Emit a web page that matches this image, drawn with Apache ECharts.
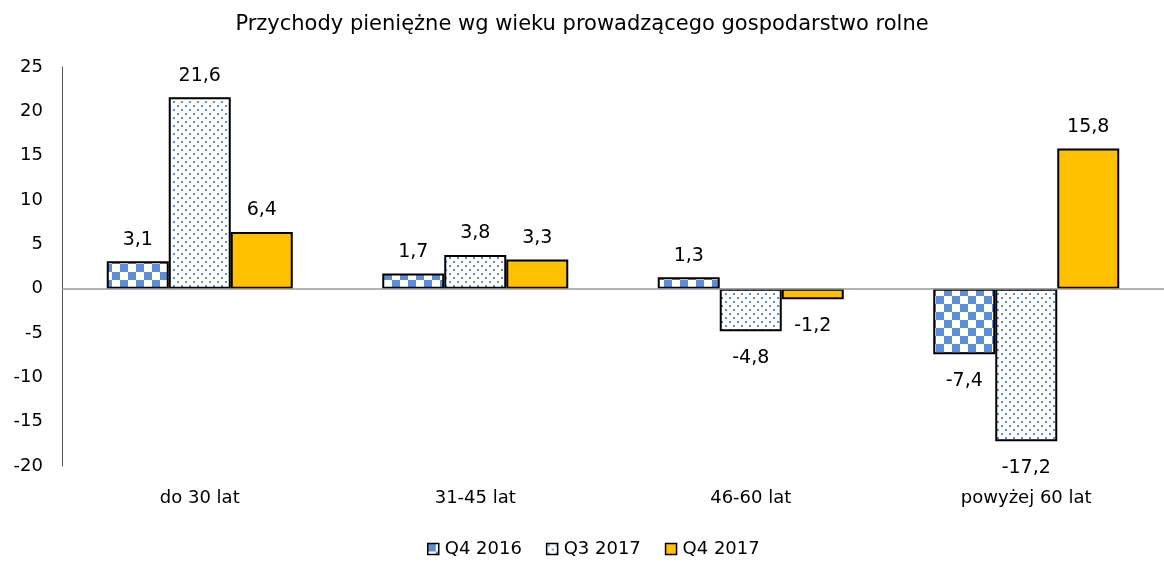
<!DOCTYPE html>
<html>
<head>
<meta charset="utf-8">
<script src="https://cdn.jsdelivr.net/npm/echarts@6/dist/echarts.min.js"></script>
<style>
  html, body { margin: 0; padding: 0; background: #fff; }
  #chart { width: 1164px; height: 568px; }
</style>
</head>
<body>
<div id="chart"></div>
<script>
// chart data
const categories = ['do 30 lat', '31-45 lat', '46-60 lat', 'powyżej 60 lat']
const seriesNames = ['Q4 2016', 'Q3 2017', 'Q4 2017']
const q4_2016 = [3.1, 1.7, 1.3, -7.4]
const q3_2017 = [21.6, 3.8, -4.8, -17.2]
const q4_2017 = [6.4, 3.3, -1.2, 15.8]
const yTicks = { min: -20, max: 25, step: 5 }

const FONT = 'DejaVu Sans'
const BLUE = '#5b8ed6'

// checkerboard tile (8px cells)
const checker = () => {
  const c = document.createElement('canvas')
  c.width = 16; c.height = 16
  const g = c.getContext('2d')
  g.fillStyle = '#fff'; g.fillRect(0, 0, 16, 16)
  g.fillStyle = BLUE
  g.fillRect(0, 0, 8, 8)
  g.fillRect(8, 8, 8, 8)
  return c
}

// sparse dot tile, rows offset
const dots = () => {
  const c = document.createElement('canvas')
  c.width = 8; c.height = 8
  const g = c.getContext('2d')
  g.fillStyle = '#fff'; g.fillRect(0, 0, 8, 8)
  g.fillStyle = BLUE
  g.fillRect(1, 1, 2, 2)
  g.fillRect(5, 5, 2, 2)
  return c
}

const fills = [
  { image: checker(), repeat: 'repeat' },
  { image: dots(), repeat: 'repeat' },
  '#ffc000',
]

const fmt = (v) => v.toFixed(1).replace('.', ',')

const mkSeries = (name, data, i) => ({
  type: 'bar',
  name,
  barWidth: 62,
  barGap: '0%',
  itemStyle: { color: fills[i], borderColor: '#000', borderWidth: 2 },
  data: data.map((v) => ({
    value: v,
    label: {
      show: true,
      position: v >= 0 ? 'top' : 'bottom',
      distance: v >= 0 ? 12 : 17,
      formatter: () => fmt(v),
      color: '#000',
      fontFamily: FONT,
      fontSize: 19,
    },
  })),
  markLine: i === 0
    ? {
        silent: true,
        symbol: 'none',
        label: { show: false },
        lineStyle: { color: '#9a9a9a', width: 1.5, type: 'solid' },
        data: [{ yAxis: 0 }],
      }
    : undefined,
})

const chart = echarts.init(document.getElementById('chart'), null, { renderer: 'canvas' })
chart.setOption({
  animation: false,
  title: {
    text: 'Przychody pieniężne wg wieku prowadzącego gospodarstwo rolne',
    left: 'center',
    top: 9,
    textStyle: { fontFamily: FONT, fontSize: 21, fontWeight: 'normal', color: '#000' },
  },
  legend: {
    bottom: 5,
    left: 422,
    icon: 'rect',
    itemWidth: 11,
    itemHeight: 11,
    itemGap: 24,
    textStyle: { fontFamily: FONT, fontSize: 18, color: '#000', padding: [0, 0, 0, 1] },
    itemStyle: { borderColor: '#000', borderWidth: 1.5 },
    data: seriesNames,
  },
  grid: { left: 62, right: 0, top: 67, bottom: 102 },
  xAxis: {
    type: 'category',
    data: categories,
    axisLine: { show: false },
    axisTick: { show: false },
    axisLabel: { color: '#000', fontFamily: FONT, fontSize: 18, margin: 23 },
  },
  yAxis: {
    type: 'value',
    min: yTicks.min,
    max: yTicks.max,
    interval: yTicks.step,
    axisLine: { show: true, lineStyle: { color: '#555', width: 1 } },
    axisTick: { show: false },
    splitLine: { show: false },
    axisLabel: { color: '#000', fontFamily: FONT, fontSize: 18, margin: 19 },
  },
  series: [
    mkSeries(seriesNames[0], q4_2016, 0),
    mkSeries(seriesNames[1], q3_2017, 1),
    mkSeries(seriesNames[2], q4_2017, 2),
  ],
})
</script>
</body>
</html>
